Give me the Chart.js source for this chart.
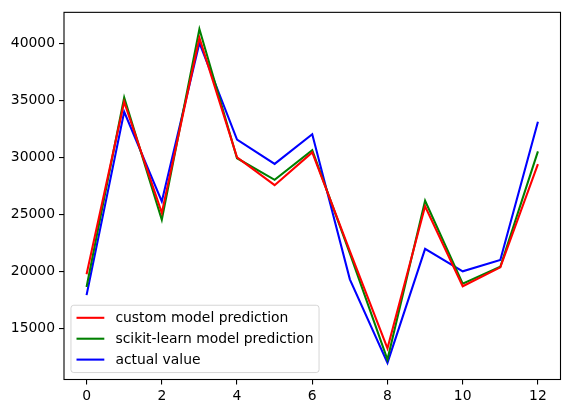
<!DOCTYPE html>
<html>
<head>
<meta charset="utf-8">
<script src="https://cdn.jsdelivr.net/npm/chart.js@4/dist/chart.umd.min.js"></script>
<style>
  html, body { margin: 0; padding: 0; background: #fff; }
  #wrap { width: 569px; height: 413px; }
</style>
</head>
<body>
<div id="wrap"><canvas id="predChart" width="569" height="413"></canvas></div>
<script>
// sample index along x
const samples = [0, 1, 2, 3, 4, 5, 6, 7, 8, 9, 10, 11, 12];
const customPred = [19770, 34880, 25150, 40490, 30030, 27580, 30460, 21800, 13280, 25730, 18720, 20380, 29420];
const sklearnPred = [18660, 35260, 24550, 41270, 29940, 28050, 30640, 21600, 12300, 26220, 18950, 20430, 30550];
const actualValue = [17940, 34010, 26160, 40050, 31570, 29450, 32050, 19330, 12010, 22000, 20030, 21020, 33140];

const xTicks = [0, 2, 4, 6, 8, 10, 12];
const yTicks = [15000, 20000, 25000, 30000, 35000, 40000];

const FS = 13.9; // 10pt at 100 dpi
const FONT_FAMILY = '"DejaVu Sans", sans-serif';

// matplotlib style 5% margins
const allVals = customPred.concat(sklearnPred, actualValue);
const yLo = Math.min(...allVals), yHi = Math.max(...allVals);
const yPad = (yHi - yLo) * 0.05;
const xPad = (samples[samples.length - 1] - samples[0]) * 0.05;

const toPoints = (vals) => vals.map((v, i) => ({ x: samples[i], y: v }));

// axes frame (all four sides)
const frameBox = {
    id: 'frameBox',
    afterDatasetsDraw(chart) {
        const a = chart.chartArea, ctx = chart.ctx;
        ctx.save();
        ctx.strokeStyle = '#000';
        ctx.lineWidth = 1.1;
        ctx.strokeRect(a.left, a.top, a.right - a.left, a.bottom - a.top);
        ctx.restore();
    }
};

// legend drawn inside the plot, lower left
const legendBox = {
    id: 'legendBox',
    afterDraw(chart) {
        const ctx = chart.ctx, a = chart.chartArea;
        const sets = chart.data.datasets;
        ctx.save();
        ctx.font = FS + 'px ' + FONT_FAMILY;
        const textW = Math.max(...sets.map(d => ctx.measureText(d.label).width));
        const pad = 0.4 * FS, handle = 2 * FS, gap = 0.8 * FS;
        const rowH = 20.9;
        const w = pad + handle + gap + textW + pad;
        const h = 67.3;
        const x0 = a.left + 0.5 * FS;
        const y0 = a.bottom - 0.5 * FS - h;

        ctx.beginPath();
        ctx.roundRect(x0, y0, w, h, 2.8);
        ctx.fillStyle = 'rgba(255,255,255,0.8)';
        ctx.fill();
        ctx.strokeStyle = 'rgba(204,204,204,0.8)';
        ctx.lineWidth = 1;
        ctx.stroke();

        ctx.textBaseline = 'middle';
        ctx.textAlign = 'left';
        sets.forEach((d, i) => {
            const cy = y0 + pad + 7 + i * rowH;
            ctx.beginPath();
            ctx.moveTo(x0 + pad, cy);
            ctx.lineTo(x0 + pad + handle, cy);
            ctx.strokeStyle = d.borderColor;
            ctx.lineWidth = 2.08;
            ctx.stroke();
            ctx.fillStyle = '#000';
            ctx.fillText(d.label, x0 + pad + handle + gap, cy + 1);
        });
        ctx.restore();
    }
};

const ctx = document.getElementById('predChart').getContext('2d');
const predChart = new Chart(ctx, {
    type: 'line',
    data: {
        datasets: [
            { label: 'custom model prediction', data: toPoints(customPred), borderColor: '#ff0000' },
            { label: 'scikit-learn model prediction', data: toPoints(sklearnPred), borderColor: '#008000' },
            { label: 'actual value', data: toPoints(actualValue), borderColor: '#0000ff' }
        ]
    },
    options: {
        responsive: false,
        animation: false,
        devicePixelRatio: 1,
        layout: { padding: { top: 10, right: 8.5, left: 0, bottom: 0 } },
        elements: {
            line: { borderWidth: 2.08, tension: 0, fill: false },
            point: { radius: 0, hoverRadius: 0 }
        },
        plugins: {
            legend: { display: false },
            tooltip: { enabled: false }
        },
        scales: {
            x: {
                type: 'linear',
                min: samples[0] - xPad,
                max: samples[samples.length - 1] + xPad,
                afterBuildTicks: (scale) => { scale.ticks = xTicks.map(v => ({ value: v })); },
                afterFit: (scale) => { scale.height = 33.5; },
                grid: { display: true, drawOnChartArea: false, drawTicks: true, tickLength: 5, color: '#000', lineWidth: 1.1 },
                border: { display: false },
                ticks: {
                    padding: 4,
                    color: '#000',
                    maxRotation: 0,
                    font: { family: FONT_FAMILY, size: FS },
                    callback: (v) => String(v)
                }
            },
            y: {
                type: 'linear',
                min: yLo - yPad,
                max: yHi + yPad,
                afterBuildTicks: (scale) => { scale.ticks = yTicks.map(v => ({ value: v })); },
                afterFit: (scale) => { scale.width = 64; },
                grid: { display: true, drawOnChartArea: false, drawTicks: true, tickLength: 5, color: '#000', lineWidth: 1.1 },
                border: { display: false },
                ticks: {
                    padding: 4,
                    color: '#000',
                    font: { family: FONT_FAMILY, size: FS },
                    callback: (v) => String(v)
                }
            }
        }
    },
    plugins: [frameBox, legendBox]
});
</script>
</body>
</html>
